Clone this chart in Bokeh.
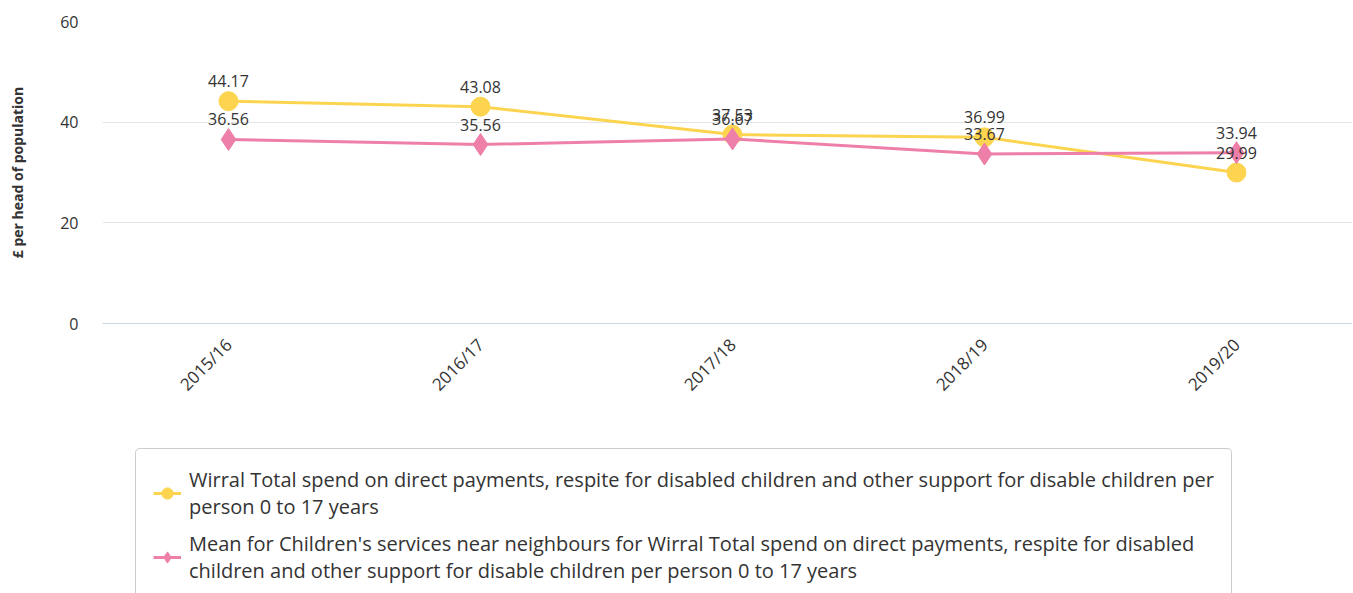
from bokeh.plotting import figure
from bokeh.models import ColumnDataSource, Legend, LegendItem, Range1d, FixedTicker, LabelSet
from bokeh.layouts import column
from bokeh.core.properties import value
from bokeh.embed import file_html
from bokeh.resources import INLINE
import math

years = ["2015/16", "2016/17", "2017/18", "2018/19", "2019/20"]
wirral = [44.17, 43.08, 37.53, 36.99, 29.99]
neighbours = [36.56, 35.56, 36.67, 33.67, 33.94]
series_names = [
    "Wirral Total spend on direct payments, respite for disabled children and other support for disable children per\nperson 0 to 17 years",
    "Mean for Children's services near neighbours for Wirral Total spend on direct payments, respite for disabled\nchildren and other support for disable children per person 0 to 17 years",
]
y_ticks = [0, 20, 40, 60]

YELLOW = "#fdd44f"
PINK = "#ee7fa9"
FONT = "Open Sans"

xs = list(range(len(years)))
src_w = ColumnDataSource(dict(x=xs, y=wirral, lab=[f"{v:.2f}" for v in wirral]))
src_n = ColumnDataSource(dict(x=xs, y=neighbours, lab=[f"{v:.2f}" for v in neighbours]))

FW, FH = 1250, 302
left, top = 102, 21
p = figure(frame_width=FW, frame_height=FH, output_backend="svg", toolbar_location=None,
           x_range=Range1d(-0.5, -0.5 + FW / 252.0), y_range=Range1d(0, 60),
           min_border_left=left, min_border_right=0, min_border_top=top, min_border_bottom=120)
p.outline_line_color = None
p.background_fill_color = "white"

# axes
p.yaxis.ticker = FixedTicker(ticks=y_ticks)
p.yaxis.axis_line_color = None
p.yaxis.major_tick_line_color = None
p.yaxis.minor_tick_line_color = None
p.yaxis.major_tick_out = 0
p.yaxis.major_label_standoff = 24
p.yaxis.major_label_text_font = FONT
p.yaxis.major_label_text_font_size = "16px"
p.yaxis.major_label_text_color = "#333333"
p.yaxis.axis_label = "£ per head of population"
p.yaxis.axis_label_text_font = FONT
p.yaxis.axis_label_text_font_size = "14px"
p.yaxis.axis_label_text_font_style = "bold"
p.yaxis.axis_label_text_color = "#333333"
p.yaxis.axis_label_standoff = 30

p.xaxis.ticker = FixedTicker(ticks=xs)
p.xaxis.major_label_overrides = {i: y for i, y in enumerate(years)}
p.xaxis.major_label_orientation = math.pi / 4
p.xaxis.axis_line_color = "#ccd6eb"
p.xaxis.major_tick_line_color = None
p.xaxis.minor_tick_line_color = None
p.xaxis.major_tick_out = 0
p.xaxis.major_label_text_font = FONT
p.xaxis.major_label_text_font_size = "17px"
p.xaxis.major_label_text_color = "#333333"
p.xaxis.major_label_standoff = 18

p.xgrid.grid_line_color = None
p.ygrid.ticker = FixedTicker(ticks=y_ticks)
p.ygrid.grid_line_color = "#e6e6e6"

# series
p.line("x", "y", source=src_w, line_color=YELLOW, line_width=3)
p.scatter("x", "y", source=src_w, marker="circle", size=19, fill_color=YELLOW, line_color=YELLOW)
p.line("x", "y", source=src_n, line_color=PINK, line_width=3)
p.scatter("x", "y", source=src_n, marker="diamond", size=22, fill_color=PINK, line_color=PINK)

for src in (src_w, src_n):
    p.add_layout(LabelSet(x="x", y="y", text="lab", source=src, text_align="center",
                          text_baseline="middle", y_offset=20, text_font=value(FONT),
                          text_font_size="16px", text_color="#333333"))

# legend in its own panel below the chart (its ranges lie away from the data,
# so only the legend glyphs are drawn there)
lg = figure(width=left + FW, height=150, output_backend="svg", toolbar_location=None,
            x_axis_location=None, y_axis_location=None,
            x_range=Range1d(1000, 1001), y_range=Range1d(1000, 1001),
            min_border_left=left, min_border_top=0, min_border_right=0, min_border_bottom=0)
lg.outline_line_color = None
lg.xgrid.grid_line_color = None
lg.ygrid.grid_line_color = None
d1 = lg.line("x", "y", source=src_w, line_color=YELLOW, line_width=3)
e1 = lg.scatter("x", "y", source=src_w, marker="circle", size=19, fill_color=YELLOW, line_color=YELLOW)
d2 = lg.line("x", "y", source=src_n, line_color=PINK, line_width=3)
e2 = lg.scatter("x", "y", source=src_n, marker="diamond", size=22, fill_color=PINK, line_color=PINK)

legend = Legend(items=[LegendItem(label=series_names[0], renderers=[d1, e1]),
                       LegendItem(label=series_names[1], renderers=[d2, e2])],
                location=(33, -9), orientation="vertical")
legend.label_text_font = FONT
legend.label_text_font_size = "20px"
legend.label_text_color = "#333333"
legend.label_text_line_height = 1.3
legend.border_line_color = "#999999"
legend.border_line_width = 1
legend.border_radius = 5
legend.padding = 17
legend.spacing = 10
legend.glyph_width = 28
legend.glyph_height = 28
legend.label_standoff = 8
legend.margin = 0
lg.add_layout(legend, "center")

layout = column(p, lg, spacing=0)
open("out.html", "w").write(file_html(layout, INLINE))
